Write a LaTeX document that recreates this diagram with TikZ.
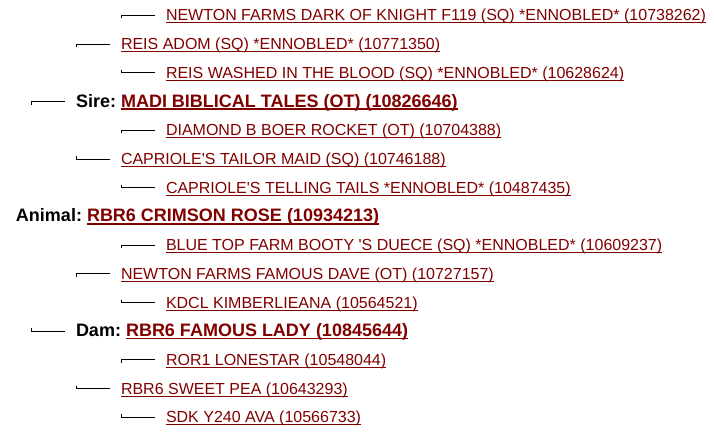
\documentclass[tikz,border=0pt]{standalone}
\usepackage{fontspec}
\setmainfont{Liberation Sans}
\usetikzlibrary{calc}
\definecolor{linkc}{HTML}{800000}
\tikzset{
  x=0.75pt, y=-0.75pt,
  conn/.style={draw=black, line width=0.75pt},
  lnk/.style={inner sep=0pt, outer sep=0pt, text=linkc, font=\fontsize{12pt}{14pt}\selectfont},
  blnk/.style={inner sep=0pt, outer sep=0pt, text=linkc, font=\fontsize{13.5pt}{16pt}\selectfont\bfseries},
  blabel/.style={inner sep=0pt, outer sep=0pt, text=black, font=\fontsize{13.5pt}{16pt}\selectfont\bfseries},
  uline/.style={draw=linkc, line width=0.75pt},
  buline/.style={draw=linkc, line width=1pt},
}
% #1 index, #2 level, #3 tick direction (1 down, -1 up)
\newcommand\pconn[3]{%
  \pgfmathsetmacro\yb{21+28.7*#1}%
  \pgfmathsetmacro\xs{45*#2-14}%
  \pgfmathsetmacro\xe{45*#2+20}%
  \coordinate (s#1) at (\xs, \yb-5.5);
  \coordinate (e#1) at (\xe, \yb-5.5);
  \coordinate (t#1) at (\xs, \yb-5.5+3*#3);
  \draw[conn] (t#1) -- (s#1) -- (e#1);
}
\newcommand\prow[4]{%
  \pconn{#1}{#2}{#3}%
  \pgfmathsetmacro\yb{21+28.7*#1}%
  \pgfmathsetmacro\xt{45*#2+31}%
  \node[lnk, anchor=base west] (n#1) at (\xt, \yb) {#4};
  \draw[uline] ($(n#1.base west)+(0,2)$) -- ($(n#1.base east)+(0,2)$);
}
\newcommand\brow[5]{% #1 index, #2 level, #3 dir, #4 label, #5 link
  \ifnum#2>0 \pconn{#1}{#2}{#3}\fi
  \pgfmathsetmacro\yb{21+28.7*#1}%
  \pgfmathsetmacro\xt{\ifnum#2>0 45*#2+31\else 16\fi}%
  \node[blabel, anchor=base west] (l#1) at (\xt, \yb) {#4};
  \node[blnk, anchor=base west] (n#1) at ($(l#1.base east)+(5,0)$) {#5};
  \draw[buline] ($(n#1.base west)+(0,2)$) -- ($(n#1.base east)+(0,2)$);
}
\begin{document}
\begin{tikzpicture}
\useasboundingbox (0,0) rectangle (714,435);
\prow{0}{3}{1}{NEWTON FARMS DARK OF KNIGHT F119 (SQ) *ENNOBLED* (10738262)}
\prow{1}{2}{1}{REIS ADOM (SQ) *ENNOBLED* (10771350)}
\prow{2}{3}{-1}{REIS WASHED IN THE BLOOD (SQ) *ENNOBLED* (10628624)}
\brow{3}{1}{1}{Sire:}{MADI BIBLICAL TALES (OT) (10826646)}
\prow{4}{3}{1}{DIAMOND B BOER ROCKET (OT) (10704388)}
\prow{5}{2}{-1}{CAPRIOLE\textquotesingle S TAILOR MAID (SQ) (10746188)}
\prow{6}{3}{-1}{CAPRIOLE\textquotesingle S TELLING TAILS *ENNOBLED* (10487435)}
\brow{7}{0}{1}{Animal:}{RBR6 CRIMSON ROSE (10934213)}
\prow{8}{3}{1}{BLUE TOP FARM BOOTY \textquotesingle S DUECE (SQ) *ENNOBLED* (10609237)}
\prow{9}{2}{1}{NEWTON FARMS FAMOUS DAVE (OT) (10727157)}
\prow{10}{3}{-1}{KDCL KIMBERLIEANA (10564521)}
\brow{11}{1}{-1}{Dam:}{RBR6 FAMOUS LADY (10845644)}
\prow{12}{3}{1}{ROR1 LONESTAR (10548044)}
\prow{13}{2}{-1}{RBR6 SWEET PEA (10643293)}
\prow{14}{3}{-1}{SDK Y240 AVA (10566733)}
\end{tikzpicture}
\end{document}
